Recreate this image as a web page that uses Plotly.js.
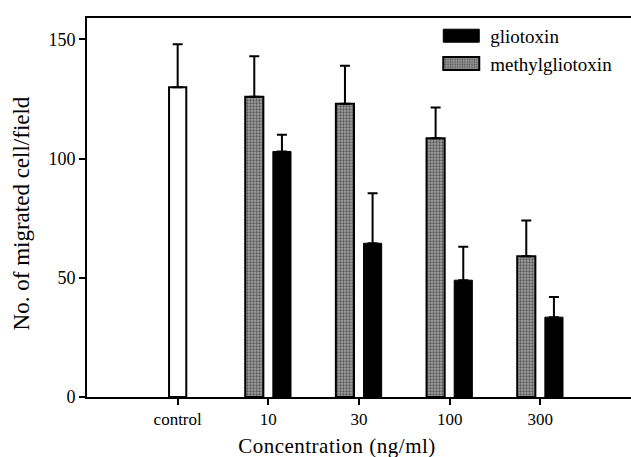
<!DOCTYPE html>
<html><head><meta charset="utf-8">
<script src="https://cdn.plot.ly/plotly-3.0.1.min.js"></script>
<style>html,body{margin:0;padding:0;background:#fff}#chart{width:631px;height:457px}</style>
</head><body><div id="chart"></div>
<script>
const categories = ["control", "10", "30", "100", "300"];
const controlCat = ["control"];
const controlMean = [130];
const controlSD = [18];
const treatCats = ["10", "30", "100", "300"];
const gliotoxinMean = [103, 64.5, 49, 33.5];
const gliotoxinSD = [7, 21, 14, 8.5];
const methylMean = [126, 123, 108.5, 59];
const methylSD = [17, 16, 13, 15];

const font = '"Liberation Serif", "Times New Roman", Times, serif';
function errs(sd){return {type:'data', symmetric:false, array:sd, arrayminus:sd.map(()=>0), color:'#000', thickness:2, width:5};}

const traces = [
  {type:'bar', x:controlCat, y:controlMean, name:'control', showlegend:false,
   width:0.19, offset:-0.095,
   marker:{color:'#fff', line:{color:'#000', width:2}}, error_y:errs(controlSD)},
  {type:'bar', x:treatCats, y:gliotoxinMean, name:'gliotoxin',
   width:0.2, offset:0.05,
   marker:{color:'#000', line:{color:'#000', width:1}}, error_y:errs(gliotoxinSD)},
  {type:'bar', x:treatCats, y:methylMean, name:'methylgliotoxin',
   width:0.2, offset:-0.255,
   marker:{color:'#8e8e8e', line:{color:'#000', width:2},
     pattern:{shape:'.', bgcolor:'#a2a2a2', fgcolor:'#555', size:3, solidity:0.45}},
   error_y:errs(methylSD)}
];

const layout = {
  width:631, height:457,
  font:{family:font, color:'#000'},
  margin:{l:87, r:0, t:18, b:60},
  paper_bgcolor:'#fff', plot_bgcolor:'#fff',
  barmode:'overlay',
  showlegend:true,
  legend:{x:0.631, y:1.003, xanchor:'left', yanchor:'top', bgcolor:'rgba(0,0,0,0)',
    font:{family:font, size:19, color:'#000'}, itemwidth:50, tracegroupgap:0, traceorder:'normal'},
  xaxis:{type:'category', categoryorder:'array', categoryarray:categories,
    range:[-1, 5], showline:true, linecolor:'#000', linewidth:2, mirror:true,
    ticks:'outside', ticklen:6, tickwidth:2, tickcolor:'#000', showgrid:false, zeroline:false,
    tickfont:{family:font, size:17, color:'#000'},
    title:{text:'Concentration (ng/ml)', font:{family:font, size:21, color:'#000'}, standoff:10}},
  yaxis:{range:[0, 159], tickvals:[0,50,100,150], showline:true, linecolor:'#000', linewidth:2, mirror:true,
    ticks:'outside', ticklen:6, tickwidth:2, tickcolor:'#000', showgrid:false, zeroline:false,
    tickfont:{family:font, size:18, color:'#000'},
    title:{text:'No. of migrated cell/field', font:{family:font, size:23, color:'#000'}, standoff:12}}
};
Plotly.newPlot('chart', traces, layout, {displayModeBar:false, staticPlot:true}).then(function(gd){
  gd.querySelectorAll('.legendpoints path').forEach(function(p){
    p.setAttribute('d', 'M-18,-6.5H18V6.5H-18Z');
    p.setAttribute('transform', 'translate(31,0)');
  });
  var xt = gd.querySelector('.g-xtitle');
  if (xt) xt.setAttribute('transform', 'translate(-22,0)');
  var xtt = gd.querySelector('.xtitle');
  if (xtt) xtt.style.letterSpacing = '0.5px';
  var yt = gd.querySelector('.g-ytitle');
  if (yt) yt.setAttribute('transform', 'translate(0,6)');
});
</script></body></html>
